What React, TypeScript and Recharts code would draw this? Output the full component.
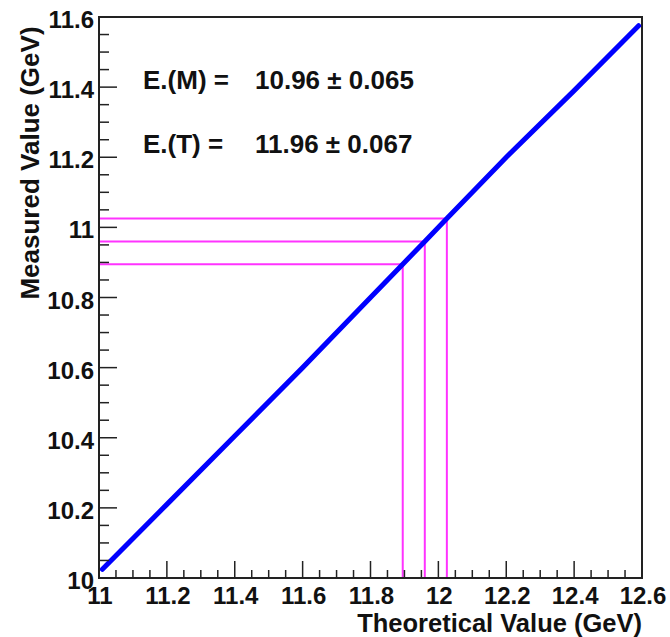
import React from "react";
import { LineChart, Line, XAxis, YAxis, ReferenceLine, ReferenceArea } from "recharts";

// calibration curve
const theoretical = [11.01, 11.2, 11.4, 11.6, 11.8, 11.895, 11.96, 12.025, 12.2, 12.4, 12.59];
const measured = [10.025, 10.21, 10.405, 10.6, 10.8, 10.895, 10.96, 11.025, 11.2, 11.39, 11.575];

// magenta guide lines (central value and +/- error)
const guideX = [11.895, 11.96, 12.025];
const guideY = [10.895, 10.96, 11.025];

const xMajor = [11, 11.2, 11.4, 11.6, 11.8, 12, 12.2, 12.4, 12.6];
const yMajor = [10, 10.2, 10.4, 10.6, 10.8, 11, 11.2, 11.4, 11.6];

const statLabels = ["E.(M) =", "E.(T) ="];
const statValues = ["10.96 \u00b1 0.065", "11.96 \u00b1 0.067"];

const FONT = "'Liberation Sans', Arial, Helvetica, sans-serif";

// 4 subdivisions per major interval
function withMinor(major: number[]) {
  const out: number[] = [];
  for (let i = 0; i < major.length - 1; i++) {
    const step = (major[i + 1] - major[i]) / 4;
    for (let k = 0; k < 4; k++) out.push(+(major[i] + k * step).toFixed(3));
  }
  out.push(major[major.length - 1]);
  return out;
}

const isMajor = (v: number, major: number[]) => major.some((m) => Math.abs(m - v) < 1e-6);
const fmt = (v: number) => String(+v.toFixed(1));

const data = theoretical.map((t, i) => ({ x: t, y: measured[i] }));

function XTick(props: any) {
  const { x, y, payload } = props;
  const major = isMajor(payload.value, xMajor);
  return (
    <g>
      <line x1={x} y1={y} x2={x} y2={y - (major ? 17 : 8)} stroke="#222" strokeWidth={1.5} />
      {major && (
        <text x={x + 1} y={y + 26} textAnchor="middle" fontFamily={FONT} fontWeight="bold" fontSize={24} fill="#111">
          {fmt(payload.value)}
        </text>
      )}
    </g>
  );
}

function YTick(props: any) {
  const { x, y, payload } = props;
  const major = isMajor(payload.value, yMajor);
  return (
    <g>
      <line x1={x} y1={y} x2={x + (major ? 18 : 10)} y2={y} stroke="#222" strokeWidth={1.5} />
      {major && (
        <text x={x - 5} y={y + 11} textAnchor="end" fontFamily={FONT} fontWeight="bold" fontSize={24} fill="#111">
          {fmt(payload.value)}
        </text>
      )}
    </g>
  );
}

export default function App() {
  return (
    <div style={{ position: "absolute", left: 0, top: 0, width: 670, height: 637, background: "#fff" }}>
      <LineChart width={670} height={637} data={data} margin={{ top: 17, right: 28, left: 0, bottom: 0 }}>
        <XAxis
          type="number"
          dataKey="x"
          domain={[11, 12.6]}
          ticks={withMinor(xMajor)}
          interval={0}
          allowDataOverflow
          height={59}
          tickSize={0}
          tickMargin={0}
          tickLine={false}
          axisLine={{ stroke: "#222", strokeWidth: 2 }}
          tick={<XTick />}
        />
        <YAxis
          type="number"
          dataKey="y"
          domain={[10, 11.6]}
          ticks={withMinor(yMajor)}
          interval={0}
          allowDataOverflow
          width={99}
          tickSize={0}
          tickMargin={0}
          tickLine={false}
          axisLine={{ stroke: "#222", strokeWidth: 2 }}
          tick={<YTick />}
        />
        <ReferenceArea x1={11} x2={12.6} y1={10} y2={11.6} fill="none" stroke="#222" strokeWidth={2} />
        {guideX.map((gx, i) => (
          <ReferenceLine
            key={"h" + i}
            segment={[{ x: 11, y: guideY[i] }, { x: gx, y: guideY[i] }]}
            stroke="#ff33ff"
            strokeWidth={2}
          />
        ))}
        {guideX.map((gx, i) => (
          <ReferenceLine
            key={"v" + i}
            segment={[{ x: gx, y: 10 }, { x: gx, y: guideY[i] }]}
            stroke="#ff33ff"
            strokeWidth={2}
          />
        ))}
        <Line
          type="linear"
          dataKey="y"
          stroke="#0000ff"
          strokeWidth={5}
          strokeLinecap="round"
          dot={false}
          isAnimationActive={false}
        />
      </LineChart>
      <svg width={670} height={637} style={{ position: "absolute", left: 0, top: 0, pointerEvents: "none" }}>
        {statLabels.map((s, i) => (
          <g key={s} fontFamily={FONT} fontWeight="bold" fontSize={26} fill="#111">
            <text x={143} y={89 + i * 64}>{s}</text>
            <text x={255} y={89 + i * 64}>{statValues[i]}</text>
          </g>
        ))}
        <text x={642} y={632} textAnchor="end" fontFamily={FONT} fontWeight="bold" fontSize={25.5} fill="#111">
          Theoretical Value (GeV)
        </text>
        <text
          transform="translate(39,163) rotate(-90)"
          textAnchor="middle"
          fontFamily={FONT}
          fontWeight="bold"
          fontSize={26}
          fill="#111"
        >
          Measured Value (GeV)
        </text>
      </svg>
    </div>
  );
}
